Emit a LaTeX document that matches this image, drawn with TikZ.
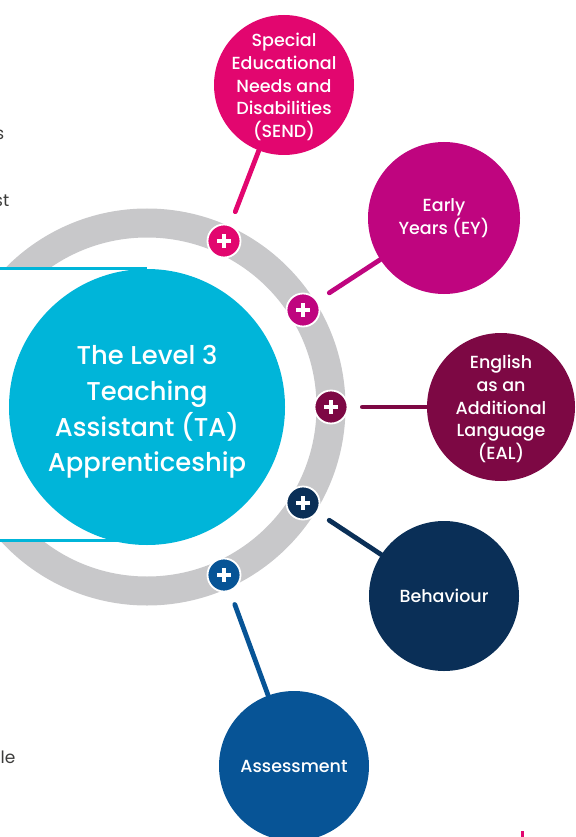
\documentclass[tikz,border=0pt]{standalone}
\usepackage{fontspec}
\setmainfont{Poppins}[UprightFont={* Medium}]
\newfontfamily\bodyfont{Poppins}
\definecolor{cyanc}{HTML}{00B5D9}
\definecolor{ringgray}{HTML}{C8C8CA}
\definecolor{sendc}{HTML}{E2066F}
\definecolor{eyc}{HTML}{BF057F}
\definecolor{ealc}{HTML}{7D0844}
\definecolor{behc}{HTML}{0A2F57}
\definecolor{assc}{HTML}{075496}
\definecolor{textgray}{HTML}{3C3C3B}
\tikzset{
  sat/.style={circle, fill=#1, inner sep=0pt, text=white, align=center,
    font=\fontsize{17.5}{22.8}\selectfont},
  plusnode/.style={circle, fill=#1, draw=white, line width=1.8pt, minimum size=33pt, inner sep=0pt,
    path picture={\draw[white, line width=3.4pt]
      ([xshift=-7pt]path picture bounding box.center) -- ([xshift=7pt]path picture bounding box.center)
      ([yshift=-7pt]path picture bounding box.center) -- ([yshift=7pt]path picture bounding box.center);}},
  conn/.style={draw=#1, line width=4.8pt, line cap=round, shorten <=14pt},
  frag/.style={text=textgray, font=\bodyfont\fontsize{17}{20}\selectfont, inner sep=0pt}
}
\begin{document}
\begin{tikzpicture}[x=1pt,y=-1pt]
\useasboundingbox (0,0) rectangle (575,837);
\clip (0,0) rectangle (575,837);
\coordinate (c) at (147,407);
% ring
\draw[ringgray, line width=29pt] (c) circle[radius=184pt];
% white panel with cyan rules
\fill[white] (0,269) rectangle (147,539);
\draw[cyanc, line width=3pt] (0,268) -- (147,268);
\draw[cyanc, line width=3pt] (0,540) -- (147,540);
% main circle
\node[circle, fill=cyanc, minimum size=276pt, inner sep=0pt] (main) at (c) {};
\node[text=white, align=center, font=\fontsize{25.8}{35.6}\selectfont, inner sep=0pt]
  (maintext) at (147,412) {The Level 3\\Teaching\\Assistant (TA)\\Apprenticeship};
% satellites
\node[sat=sendc, minimum size=140pt] (send) at (284,85) {};
\node[text=white, align=center, font=\fontsize{17.5}{22.8}\selectfont, inner sep=0pt]
  (sendtext) at (284,87) {Special\\Educational\\Needs and\\Disabilities\\(SEND)};
\node[sat=eyc, minimum size=152pt] (ey) at (444,218) {Early\\Years (EY)};
\node[sat=ealc, minimum size=148pt] (eal) at (501,407) {};
\node[text=white, align=center, font=\fontsize{17.5}{22.8}\selectfont, inner sep=0pt]
  (ealtext) at (501,409) {English\\as an\\Additional\\Language\\(EAL)};
\node[sat=behc, minimum size=150pt] (beh) at (444,596) {Behaviour};
\node[sat=assc, minimum size=150pt] (ass) at (294,766) {Assessment};
% plus markers
\node[plusnode=sendc] (psend) at (224,241) {};
\node[plusnode=eyc] (pey) at (303,310) {};
\node[plusnode=ealc] (peal) at (331,407) {};
\node[plusnode=behc] (pbeh) at (303,503) {};
\node[plusnode=assc] (pass) at (224,575) {};
% connectors
\draw[conn=sendc] (psend) -- (send);
\draw[conn=eyc] (pey) -- (ey);
\draw[conn=ealc] (peal) -- (eal);
\draw[conn=behc] (pbeh) -- (beh);
\draw[conn=assc] (pass) -- (ass);
% cut-off text fragments at the left edge
\node[frag, anchor=east] (f1) at (4.5,135) {s};
\node[frag, anchor=east] (f2) at (9.5,201) {st};
\node[frag, anchor=east] (f3) at (15.5,757) {le};
% small mark at bottom right
\fill[sendc] (521,831) rectangle (524,837);
\end{tikzpicture}
\end{document}
